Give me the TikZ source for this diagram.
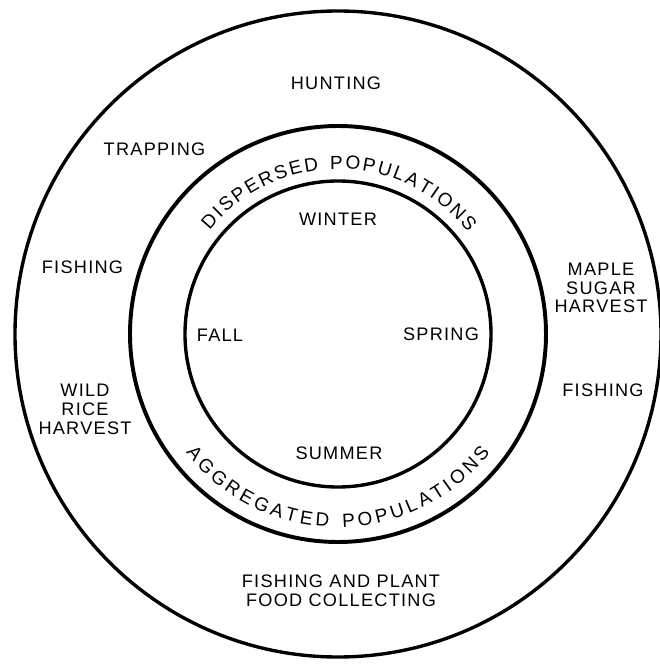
\documentclass[tikz,border=0pt]{standalone}
\usepackage{fontspec}
\setmainfont{Liberation Sans}[LetterSpace=7]
\usetikzlibrary{decorations.text}
\newcommand\curvefont{\fontsize{13.5}{15}\selectfont}

\begin{document}
\begin{tikzpicture}[x=0.025cm, y=0.025cm, font=\fontsize{12.9}{13.4}\selectfont]
\useasboundingbox (-338,-330) rectangle (321,334);
\coordinate (c) at (0,0);
% the three rings
\draw[line width=2.4pt] (c) circle[radius=323];
\draw[line width=2.8pt] (c) circle[radius=208];
\draw[line width=2.4pt] (c) circle[radius=153];
% seasons
\node (winter) at (0,114.5) {WINTER};
\node (spring) at (103,0) {SPRING};
\node (summer) at (1,-119) {SUMMER};
\node (fall) at (-118,-1) {FALL};
% populations, along the middle band
\path[decorate, decoration={text along path, text align=fit to path,
    text={|\curvefont|DISPERSED POPULATIONS}}]
  (141:165) arc[start angle=141, end angle=38, radius=165];
\path[decorate, decoration={text along path, text align=fit to path,
    text={|\curvefont|AGGREGATED POPULATIONS}}]
  (218:193) arc[start angle=218, end angle=322, radius=193];
% activities in the outer ring
\node (hunting) at (-2,250.5) {HUNTING};
\node (trapping) at (-183.5,184.5) {TRAPPING};
\node (fishw) at (-255.5,66.5) {FISHING};
\node[align=center] (rice) at (-253,-75.5) {WILD\\RICE\\HARVEST};
\node[align=center] (maple) at (263,46) {MAPLE\\SUGAR\\HARVEST};
\node (fishe) at (265,-56.5) {FISHING};
\node[align=center] (plant) at (3,-257) {FISHING AND PLANT\\FOOD COLLECTING};
\end{tikzpicture}
\end{document}
